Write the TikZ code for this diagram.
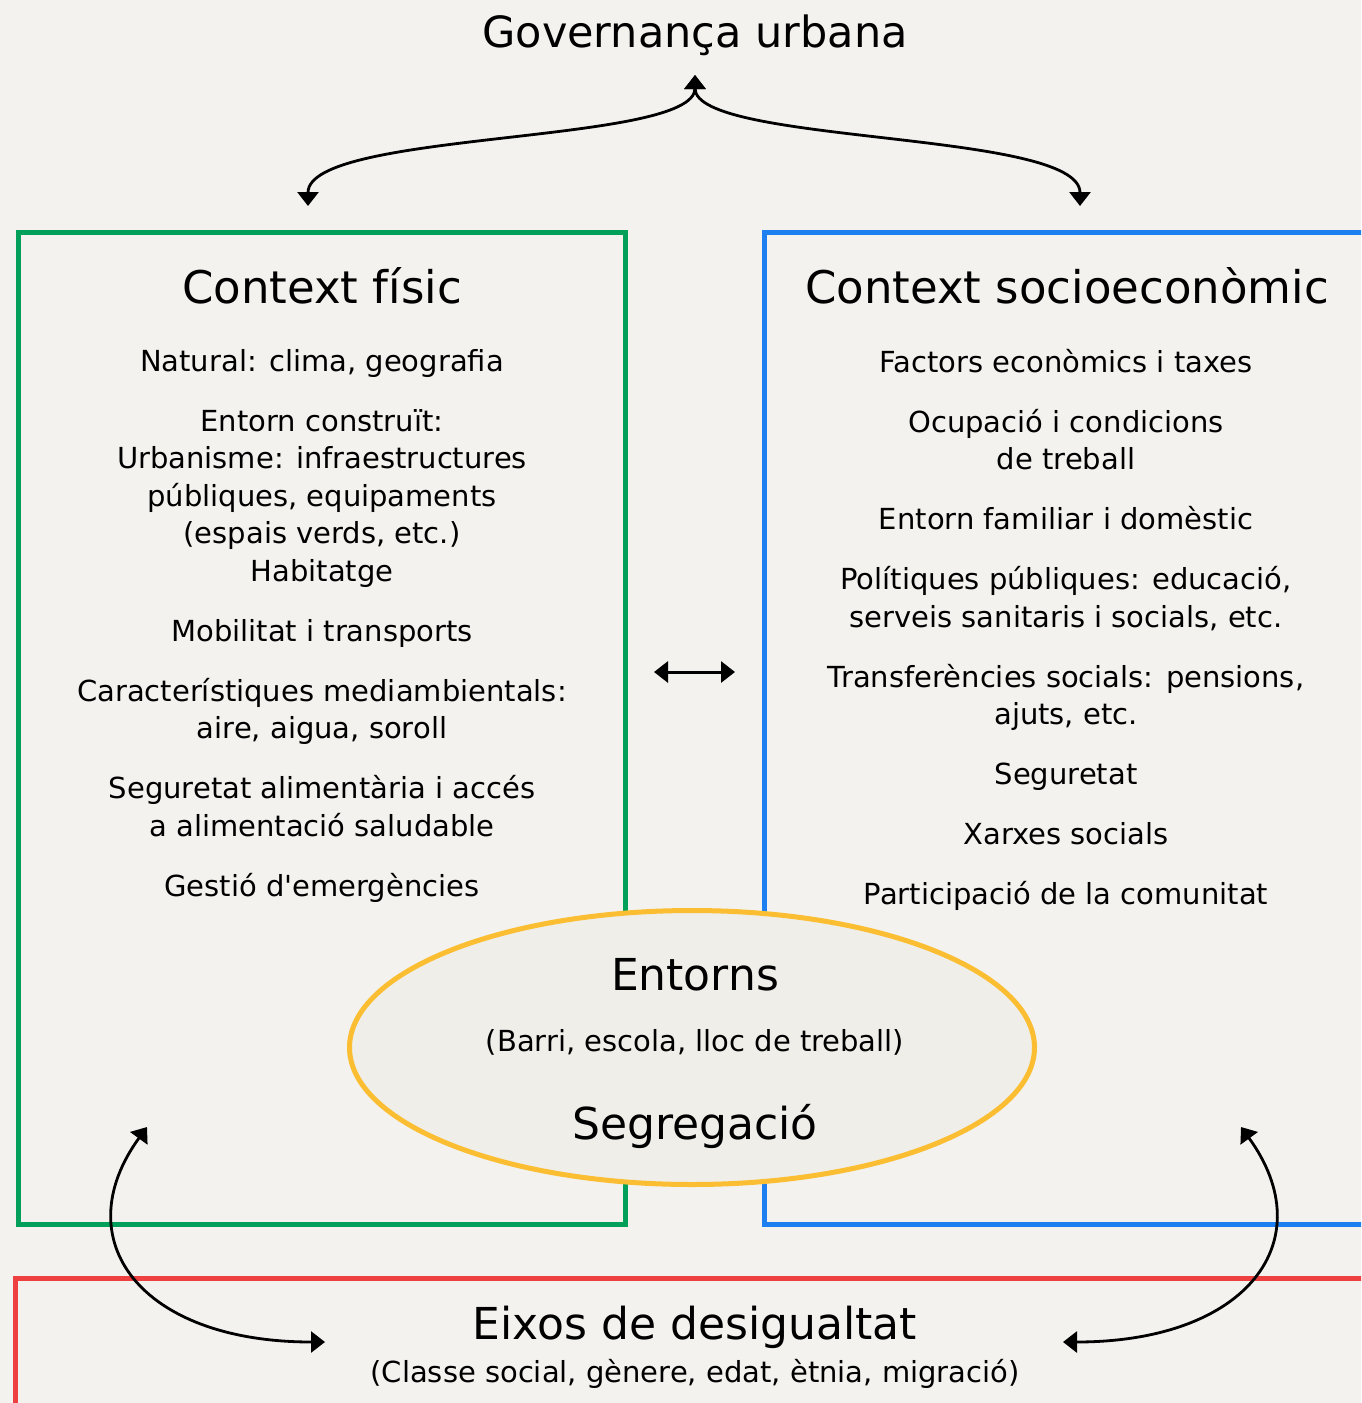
\documentclass[tikz,border=0pt]{standalone}
\usepackage{fontspec}
\setmainfont{DejaVu Sans}[Ligatures=TeXOff]
\usetikzlibrary{arrows.meta,shapes.geometric,positioning}

\definecolor{paper}{RGB}{243,242,238}
\definecolor{fisgreen}{RGB}{0,160,90}
\definecolor{socblue}{RGB}{30,128,240}
\definecolor{eixred}{RGB}{238,64,64}
\definecolor{entyellow}{RGB}{251,190,50}
\definecolor{entfill}{RGB}{239,238,233}

\begin{document}
\begin{tikzpicture}[x=1pt, y=-1pt,
  frame/.style = {line width=5pt},
  head/.style = {font=\fontsize{44}{52}\selectfont, anchor=base, inner sep=0pt},
  items/.style = {font=\fontsize{29}{37.5}\selectfont, align=center, anchor=base, inner sep=0pt},
  link/.style = {line width=2.8pt, {Triangle[width=21pt,length=14pt]}-{Triangle[width=21pt,length=14pt]}}]

  \fill[paper] (0,0) rectangle (1361,1403);
  \useasboundingbox (0,0) rectangle (1361,1403);
  \clip (0,0) rectangle (1361,1403);

  \draw[frame, fisgreen] (18.5,232.5) rectangle (625.5,1224.5);
  \draw[frame, socblue] (764,232.5) rectangle (1400,1224.5);
  \draw[frame, eixred] (15.8,1278) rectangle (1400,1450);

  \node[head, font=\fontsize{43}{50}\selectfont] (gov) at (695,47) {Governança urbana};

  % multi-line lists sit on the baseline of their last line
  \node[head, font=\fontsize{45}{52}\selectfont] (fis) at (322,303) {Context físic};
  \node[items] (fisitems) at (322,896) {Natural: clima, geografia\\[22.5pt]
    Entorn construït:\\ Urbanisme: infraestructures\\ públiques, equipaments\\
    (espais verds, etc.)\\ Habitatge\\[22.5pt]
    Mobilitat i transports\\[22.5pt]
    Característiques mediambientals:\\ aire, aigua, soroll\\[22.5pt]
    Seguretat alimentària i accés\\ a alimentació saludable\\[22.5pt]
    Gestió d'emergències};

  \node[head, font=\fontsize{45}{52}\selectfont] (soc) at (1067,303) {Context socioeconòmic};
  \node[items] (socitems) at (1066,904.5) {Factors econòmics i taxes\\[22.5pt]
    Ocupació i condicions\\ de treball\\[22.5pt]
    Entorn familiar i domèstic\\[22.5pt]
    Polítiques públiques: educació,\\ serveis sanitaris i socials, etc.\\[22.5pt]
    Transferències socials: pensions,\\ ajuts, etc.\\[22.5pt]
    Seguretat\\[22.5pt]
    Xarxes socials\\[22.5pt]
    Participació de la comunitat};

  \node[ellipse, draw=entyellow, fill=entfill, line width=5pt,
        minimum width=685pt, minimum height=274pt, inner sep=0pt] (ent) at (692,1047.5) {};
  \node[head] (entorns) at (695,990) {Entorns};
  \node[items] (entitems) at (695,1051) {(Barri, escola, lloc de treball)};
  \node[head] (seg) at (695,1139) {Segregació};

  \node[head] (eix) at (695,1339) {Eixos de desigualtat};
  \node[items] (eixitems) at (695,1382) {(Classe social, gènere, edat, ètnia, migració)};

  \coordinate (govtip) at (695,75);
  \coordinate (fistop) at (308,206);
  \coordinate (soctop) at (1080,206);
  \coordinate (midl) at (654,672);
  \coordinate (midr) at (735,672);
  \coordinate (fislow) at (147,1127);
  \coordinate (soclow) at (1241,1127);
  \coordinate (eixl) at (325,1342);
  \coordinate (eixr) at (1063,1342);

  \draw[link] (fistop) .. controls (308,130) and (695,145) .. (govtip);
  \draw[link] (soctop) .. controls (1080,130) and (695,145) .. (govtip);
  \draw[link, line width=3pt] (midl) -- (midr);
  \draw[link] (eixl) .. controls (140,1342) and (65,1240) .. (fislow);
  \draw[link] (eixr) .. controls (1248,1342) and (1323,1240) .. (soclow);
\end{tikzpicture}
\end{document}
